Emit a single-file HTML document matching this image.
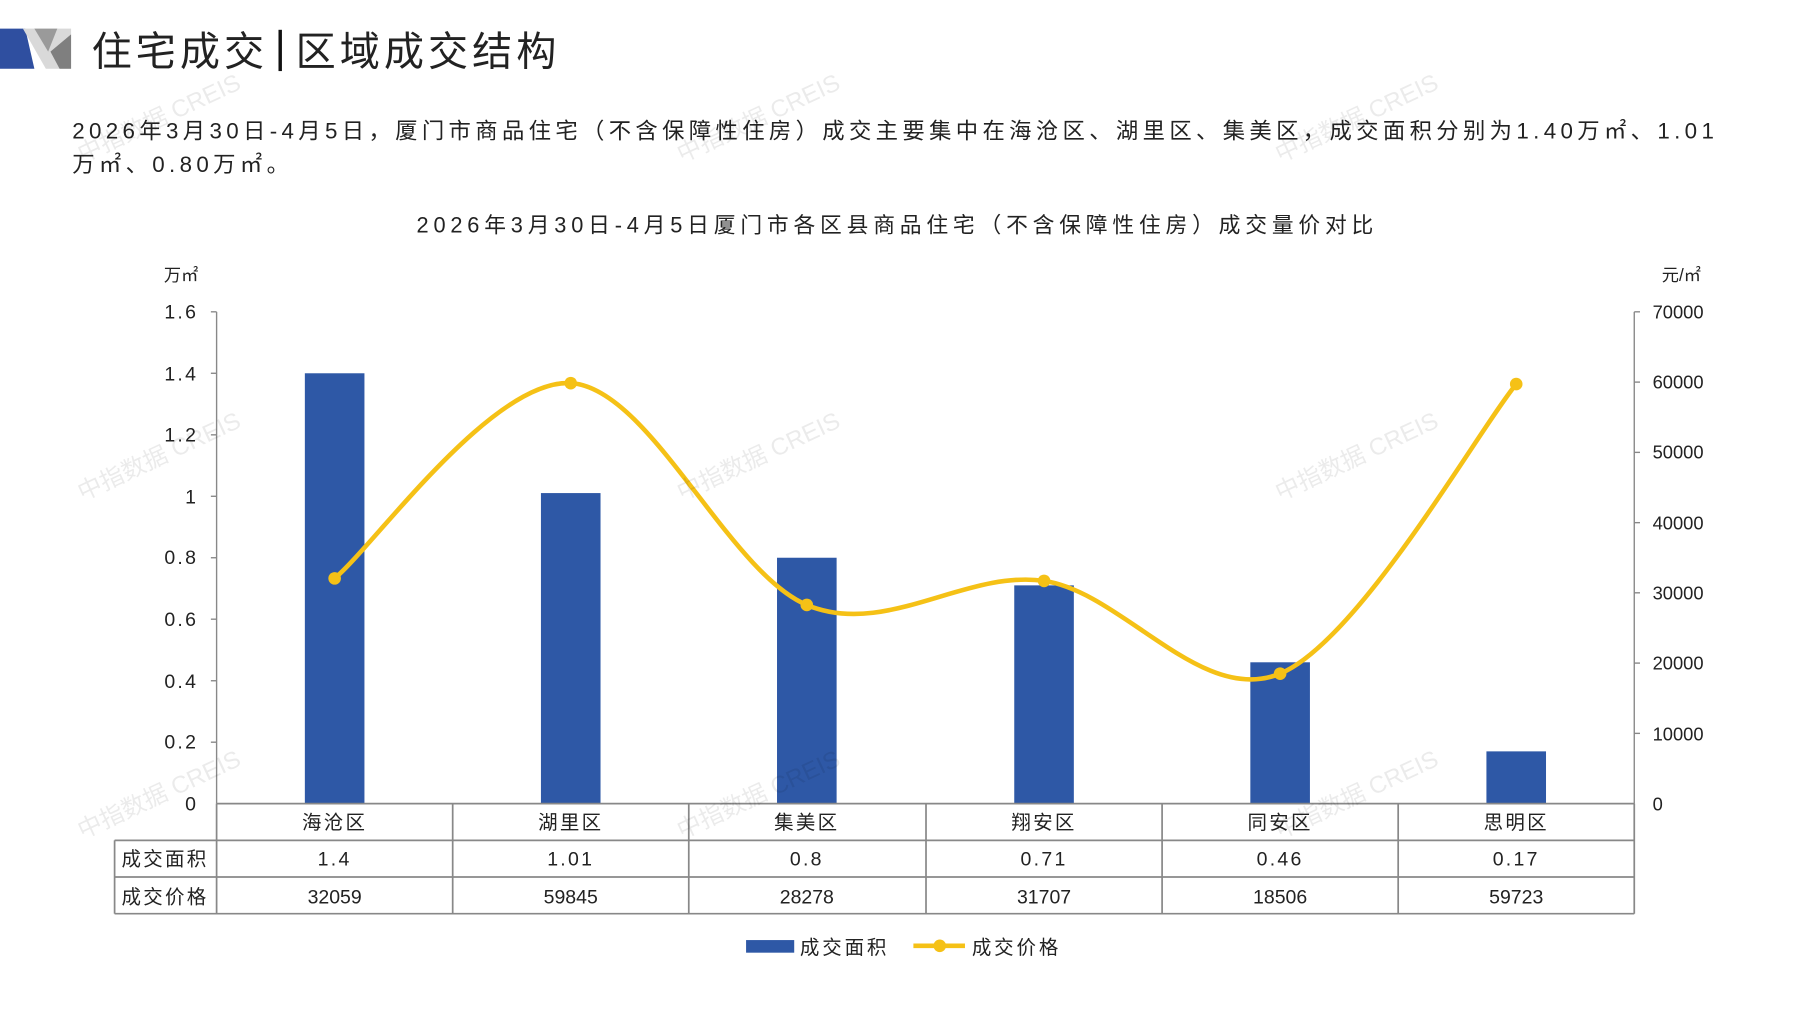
<!DOCTYPE html>
<html><head><meta charset="utf-8"><style>
html,body{margin:0;padding:0;background:#fff;}
svg{display:block;}
text{font-family:"Liberation Sans","Noto Sans CJK SC",sans-serif;fill:#222;}
</style></head><body>
<svg width="1797" height="1010" viewBox="0 0 1568 881" preserveAspectRatio="none" xmlns="http://www.w3.org/2000/svg">
<!-- header shapes -->
<polygon points="0,25 22,25 30,60 0,60" fill="#2f4fa0"/>
<polygon points="20,25 62,25 62,60 40,60" fill="#d9d9d9"/>
<polygon points="30,25 50,25 42,45" fill="#9a9a9a"/>
<polygon points="44,45 62,30 62,60 52,60" fill="#7f7f7f"/>
<text x="80" y="57" font-size="35" letter-spacing="3.5" fill="#111">住宅成交</text>
<rect x="243" y="26" width="3" height="36" fill="#111"/>
<text x="258" y="57" font-size="35" letter-spacing="3.5" fill="#111">区域成交结构</text>
<text x="63" y="121" font-size="19.5" letter-spacing="3.8">2026年3月30日-4月5日，厦门市商品住宅（不含保障性住房）成交主要集中在海沧区、湖里区、集美区，成交面积分别为1.40万㎡、1.01</text>
<text x="63" y="150" font-size="19.5" letter-spacing="3.8">万㎡、0.80万㎡。</text>
<text x="783" y="203" font-size="19" letter-spacing="4.2" text-anchor="middle">2026年3月30日-4月5日厦门市各区县商品住宅（不含保障性住房）成交量价对比</text>
<text x="143" y="245" font-size="15">万㎡</text>
<text x="1450" y="245" font-size="15">元/㎡</text>
<!-- axes -->
<g stroke="#888" stroke-width="1.2">
<line x1="189" y1="272" x2="189" y2="701"/>
<line x1="1426" y1="272" x2="1426" y2="701"/>
<line x1="184" y1="272" x2="189" y2="272"/><line x1="184" y1="325.6" x2="189" y2="325.6"/><line x1="184" y1="379.3" x2="189" y2="379.3"/><line x1="184" y1="432.9" x2="189" y2="432.9"/><line x1="184" y1="486.5" x2="189" y2="486.5"/><line x1="184" y1="540.1" x2="189" y2="540.1"/><line x1="184" y1="593.8" x2="189" y2="593.8"/><line x1="184" y1="647.4" x2="189" y2="647.4"/>
<line x1="1426" y1="272" x2="1431" y2="272"/><line x1="1426" y1="333.3" x2="1431" y2="333.3"/><line x1="1426" y1="394.6" x2="1431" y2="394.6"/><line x1="1426" y1="455.9" x2="1431" y2="455.9"/><line x1="1426" y1="517.1" x2="1431" y2="517.1"/><line x1="1426" y1="578.4" x2="1431" y2="578.4"/><line x1="1426" y1="639.7" x2="1431" y2="639.7"/>
</g>
<g font-size="17" text-anchor="end" letter-spacing="2">
<text x="173" y="278">1.6</text><text x="173" y="332">1.4</text><text x="173" y="385">1.2</text><text x="173" y="439">1</text><text x="173" y="492">0.8</text><text x="173" y="546">0.6</text><text x="173" y="600">0.4</text><text x="173" y="653">0.2</text><text x="173" y="707">0</text>
</g>
<g font-size="16">
<text x="1442" y="278">70000</text><text x="1442" y="339">60000</text><text x="1442" y="400">50000</text><text x="1442" y="462">40000</text><text x="1442" y="523">30000</text><text x="1442" y="584">20000</text><text x="1442" y="646">10000</text><text x="1442" y="707">0</text>
</g>
<!-- bars -->
<g fill="#2e58a6">
<rect x="266" y="325.6" width="52" height="375.4"/>
<rect x="472" y="430.1" width="52" height="270.9"/>
<rect x="678" y="486.5" width="52" height="214.5"/>
<rect x="885" y="510.6" width="52" height="190.4"/>
<rect x="1091" y="577.7" width="52" height="123.3"/>
<rect x="1297" y="655.4" width="52" height="45.6"/>
</g>
<!-- line -->
<path d="M292,504.5 C326.3,476.1 429.3,330.3 498,334.2 C566.7,338.1 635.2,499 704,527.7 C772.8,556.4 842.2,496.7 911,506.7 C979.8,516.7 1048.3,616.2 1117,587.6 C1185.7,559 1288.7,377.1 1323,335" fill="none" stroke="#f5c116" stroke-width="4"/>
<g fill="#f5c116">
<circle cx="292" cy="504.5" r="5.5"/><circle cx="498" cy="334.2" r="5.5"/><circle cx="704" cy="527.7" r="5.5"/><circle cx="911" cy="506.7" r="5.5"/><circle cx="1117" cy="587.6" r="5.5"/><circle cx="1323" cy="335" r="5.5"/>
</g>
<!-- table -->
<g stroke="#888" stroke-width="1.5" fill="none">
<line x1="189" y1="701" x2="1426" y2="701"/>
<line x1="100" y1="733" x2="1426" y2="733"/>
<line x1="100" y1="765" x2="1426" y2="765"/>
<line x1="100" y1="797" x2="1426" y2="797"/>
<line x1="100" y1="733" x2="100" y2="797"/>
<line x1="189" y1="701" x2="189" y2="797"/>
<line x1="395" y1="701" x2="395" y2="797"/><line x1="601" y1="701" x2="601" y2="797"/><line x1="808" y1="701" x2="808" y2="797"/><line x1="1014" y1="701" x2="1014" y2="797"/><line x1="1220" y1="701" x2="1220" y2="797"/><line x1="1426" y1="701" x2="1426" y2="797"/>
</g>
<g font-size="17" text-anchor="middle" letter-spacing="2">
<text x="292" y="723">海沧区</text><text x="498" y="723">湖里区</text><text x="704" y="723">集美区</text><text x="911" y="723">翔安区</text><text x="1117" y="723">同安区</text><text x="1323" y="723">思明区</text>
<text x="292" y="755">1.4</text><text x="498" y="755">1.01</text><text x="704" y="755">0.8</text><text x="911" y="755">0.71</text><text x="1117" y="755">0.46</text><text x="1323" y="755">0.17</text>
<text x="144" y="755">成交面积</text><text x="144" y="788">成交价格</text>
</g>
<g font-size="17" text-anchor="middle">
<text x="292" y="788">32059</text><text x="498" y="788">59845</text><text x="704" y="788">28278</text><text x="911" y="788">31707</text><text x="1117" y="788">18506</text><text x="1323" y="788">59723</text>
</g>
<!-- legend -->
<rect x="651" y="820" width="42" height="11" fill="#2e58a6"/>
<text x="698" y="832" font-size="17" letter-spacing="2.5">成交面积</text>
<line x1="797" y1="825" x2="842" y2="825" stroke="#f5c116" stroke-width="4"/>
<circle cx="820" cy="825" r="5.5" fill="#f5c116"/>
<text x="848" y="832" font-size="17" letter-spacing="2.5">成交价格</text>
<!-- watermarks -->
<g font-size="21" opacity="0.08">
<text transform="translate(72,142) rotate(-25)" style="fill:#000">中指数据 CREIS</text>
<text transform="translate(595,142) rotate(-25)" style="fill:#000">中指数据 CREIS</text>
<text transform="translate(1117,142) rotate(-25)" style="fill:#000">中指数据 CREIS</text>
<text transform="translate(72,437) rotate(-25)" style="fill:#000">中指数据 CREIS</text>
<text transform="translate(595,437) rotate(-25)" style="fill:#000">中指数据 CREIS</text>
<text transform="translate(1117,437) rotate(-25)" style="fill:#000">中指数据 CREIS</text>
<text transform="translate(72,732) rotate(-25)" style="fill:#000">中指数据 CREIS</text>
<text transform="translate(595,732) rotate(-25)" style="fill:#000">中指数据 CREIS</text>
<text transform="translate(1117,732) rotate(-25)" style="fill:#000">中指数据 CREIS</text>
</g>
</svg>
</body></html>
